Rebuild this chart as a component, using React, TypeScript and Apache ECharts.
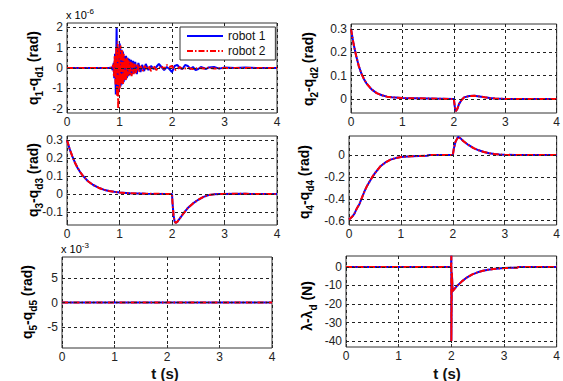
import React, { useEffect, useRef } from 'react';
import * as echarts from 'echarts';

const FONT = '"Liberation Sans", Arial, Helvetica, sans-serif';

// ---------- tick labels ----------
const X_TICKS = [0, 1, 2, 3, 4];
const P1_Y_TICKS = [-2, -1, 0, 1, 2];
const P2_Y_TICKS = [0, 0.1, 0.2, 0.3];
const P3_Y_TICKS = [-0.1, 0, 0.1, 0.2, 0.3];
const P4_Y_TICKS = [-0.6, -0.4, -0.2, 0];
const P5_Y_TICKS = [-5, 0, 5];
const P6_Y_TICKS = [-40, -30, -20, -10, 0];

// ---------- series values: [t (s), value] ----------
// Panel 1 (x 1e-6 rad)
const P1_ROBOT1: [number, number][] = [
  [0, 0], [0.5, 0], [0.8, 0], [0.85, 0.03], [0.87, -0.1], [0.89, 0.25], [0.9, -0.5],
  [0.915, 0.7], [0.93, -1.3], [0.945, 2.0], [0.96, -1.2], [0.975, 1.0], [0.99, -1.1],
  [1.005, 1.2], [1.02, -0.9], [1.035, 0.9], [1.05, -0.8], [1.065, 0.8], [1.08, -0.7],
  [1.095, 0.6], [1.11, -0.6], [1.125, 0.6], [1.14, -0.5], [1.155, 0.5], [1.17, -0.4],
  [1.185, 0.45], [1.2, -0.35], [1.22, 0.4], [1.24, -0.3], [1.26, 0.35], [1.28, -0.25], [1.3, 0.3],
  [1.33, -0.3], [1.36, 0.25], [1.4, -0.2], [1.43, 0.15], [1.47, -0.15], [1.5, 0.2],
  [1.55, -0.1], [1.6, 0.1], [1.65, -0.05], [1.7, 0.05], [1.75, 0.2], [1.8, 0.05], [1.85, -0.1],
  [1.9, 0.05], [1.95, -0.05], [2.0, -0.2], [2.05, 0.1], [2.1, 0.15], [2.15, 0.0], [2.2, -0.05],
  [2.25, 0.15], [2.3, 0.1], [2.35, -0.05], [2.4, 0.05], [2.45, -0.1], [2.5, -0.05], [2.55, 0.05],
  [2.6, 0.0], [2.65, -0.05], [2.7, 0.03], [2.8, 0.05], [2.9, -0.03], [3.0, 0.02], [3.2, 0],
  [3.4, 0.02], [3.6, 0], [4.0, 0],
];
const P1_ROBOT2: [number, number][] = [
  [0, 0], [0.5, 0], [0.86, 0], [0.88, 0.15], [0.895, -0.4], [0.91, 0.6], [0.925, -0.8],
  [0.94, 1.0], [0.955, -1.4], [0.965, 1.3], [0.975, -2.0], [0.99, 1.0], [1.005, -1.0],
  [1.02, 1.1], [1.035, -0.8], [1.05, 0.9], [1.065, -0.8], [1.08, 0.7], [1.095, -0.6],
  [1.11, 0.5], [1.125, -0.6], [1.14, 0.5], [1.155, -0.4], [1.17, 0.4], [1.19, -0.35],
  [1.21, 0.3], [1.23, -0.4], [1.25, 0.25], [1.27, -0.3], [1.29, 0.2], [1.31, -0.25],
  [1.34, 0.2], [1.37, -0.2], [1.4, 0.1], [1.44, -0.15], [1.48, 0.1], [1.52, -0.1], [1.56, 0.1],
  [1.6, -0.15], [1.65, 0.1], [1.7, -0.1], [1.75, 0.0], [1.8, 0.1], [1.85, -0.05], [1.9, 0.15],
  [1.95, 0.05], [2.0, 0.1], [2.05, -0.1], [2.1, -0.05], [2.15, 0.05], [2.2, -0.05], [2.3, 0.0],
  [2.4, -0.05], [2.5, 0.0], [2.6, -0.03], [2.7, 0.02], [2.8, -0.03], [3.0, 0], [4.0, 0],
];
// Panel 2 (rad)
const P2_VALUES: [number, number][] = [
  [0, 0.3], [0.05, 0.235], [0.1, 0.185], [0.15, 0.142], [0.2, 0.11], [0.25, 0.086], [0.3, 0.067],
  [0.4, 0.041], [0.5, 0.025], [0.6, 0.016], [0.7, 0.01], [0.8, 0.007], [1.0, 0.004], [1.5, 0.002],
  [2.0, 0], [2.02, -0.035], [2.04, -0.052], [2.07, -0.042], [2.1, -0.022], [2.15, -0.004],
  [2.2, 0.007], [2.3, 0.013], [2.4, 0.014], [2.5, 0.011], [2.6, 0.007], [2.7, 0.004], [2.8, 0.002],
  [3.0, 0], [4.0, 0],
];
// Panel 3 (rad)
const P3_VALUES: [number, number][] = [
  [0, 0.3], [0.05, 0.25], [0.1, 0.21], [0.15, 0.175], [0.2, 0.146], [0.25, 0.122], [0.3, 0.102],
  [0.4, 0.071], [0.5, 0.05], [0.6, 0.035], [0.7, 0.024], [0.8, 0.017], [0.9, 0.012], [1.0, 0.008],
  [1.2, 0.004], [1.5, 0.002], [2.0, 0], [2.01, -0.05], [2.03, -0.12], [2.05, -0.152], [2.07, -0.16],
  [2.1, -0.155], [2.15, -0.135], [2.2, -0.115], [2.3, -0.078], [2.4, -0.052], [2.5, -0.032],
  [2.6, -0.016], [2.7, -0.006], [2.8, -0.002], [2.9, 0], [3.4, 0.002], [3.5, 0], [4.0, 0],
];
// Panel 4 (rad)
const P4_VALUES: [number, number][] = [
  [0, -0.59], [0.05, -0.57], [0.1, -0.54], [0.15, -0.49], [0.2, -0.45], [0.25, -0.39], [0.3, -0.33],
  [0.35, -0.28], [0.4, -0.24], [0.45, -0.2], [0.5, -0.165], [0.6, -0.105], [0.7, -0.068],
  [0.8, -0.042], [0.9, -0.028], [1.0, -0.019], [1.2, -0.011], [1.5, -0.006], [1.55, 0], [2.0, 0],
  [2.02, 0.06], [2.05, 0.12], [2.1, 0.165], [2.15, 0.152], [2.2, 0.128], [2.3, 0.092], [2.4, 0.063],
  [2.5, 0.043], [2.6, 0.028], [2.7, 0.017], [2.8, 0.01], [2.9, 0.005], [3.0, 0.002], [3.2, 0],
  [4.0, 0],
];
// Panel 5 (x 1e-3 rad)
const P5_VALUES: [number, number][] = [[0, 0], [1, 0], [2, 0], [3, 0], [4, 0]];
// Panel 6 (N)
const P6_VALUES: [number, number][] = [
  [0, 0], [1.0, 0], [1.995, 0], [2.0, 6], [2.0, -40], [2.01, -3], [2.025, -13], [2.1, -10.5],
  [2.2, -7.8], [2.3, -5.6], [2.4, -4.0], [2.5, -2.9], [2.6, -2.1], [2.7, -1.5], [2.8, -1.1],
  [2.9, -0.8], [3.0, -0.6], [3.1, -0.5], [3.25, -0.4], [3.28, 0], [4.0, 0],
];

const GRIDS = [
  { left: 67, top: 23, width: 210, height: 90 },
  { left: 351, top: 24, width: 210, height: 89 },
  { left: 67, top: 136, width: 210, height: 89 },
  { left: 349, top: 136, width: 212, height: 89 },
  { left: 62, top: 257, width: 210, height: 91 },
  { left: 346, top: 256, width: 211, height: 91 },
];
const Y_RANGES: [number, number][] = [
  [-2.2, 2.2], [-0.06, 0.321], [-0.172, 0.322], [-0.64, 0.174], [-9.2, 9.2], [-43.2, 5.9],
];

const RICH = {
  m: { fontSize: 14, fontWeight: 'bold', fontFamily: FONT, lineHeight: 22, color: '#111' },
  s: { fontSize: 10, fontWeight: 'bold', fontFamily: FONT, verticalAlign: 'bottom', color: '#111' },
};
const SUP_RICH = {
  a: { fontSize: 11, fontFamily: FONT, lineHeight: 16, color: '#222' },
  e: { fontSize: 8, fontFamily: FONT, verticalAlign: 'top', color: '#222' },
};

export default function App() {
  const ref = useRef<HTMLDivElement>(null);
  useEffect(() => {
    if (!ref.current) return;
    const chart = echarts.init(ref.current, null, { renderer: 'svg' });
    const yTicks = [P1_Y_TICKS, P2_Y_TICKS, P3_Y_TICKS, P4_Y_TICKS, P5_Y_TICKS, P6_Y_TICKS];
    const r1 = [P1_ROBOT1, P2_VALUES, P3_VALUES, P4_VALUES, P5_VALUES, P6_VALUES];
    const r2 = [P1_ROBOT2, P2_VALUES, P3_VALUES, P4_VALUES, P5_VALUES, P6_VALUES];

    const series: any[] = [];
    GRIDS.forEach((_, i) => {
      series.push({
        type: 'line', name: 'grid', xAxisIndex: i, yAxisIndex: i, data: [[0, 0]],
        symbol: 'none', lineStyle: { opacity: 0 }, silent: true, z: 1,
        markLine: {
          silent: true, symbol: ['none', 'none'], label: { show: false },
          lineStyle: { color: '#222', type: [3, 3], width: 1 },
          emphasis: { disabled: true },
          data: yTicks[i].map((v) => ({ yAxis: v })),
        },
      });
      series.push({
        type: 'line', name: 'robot 1', xAxisIndex: i, yAxisIndex: i, data: r1[i],
        symbol: 'none', showSymbol: false, silent: true, z: 3,
        lineStyle: { color: '#0000ff', width: 2 }, itemStyle: { color: '#0000ff' },
      });
      series.push({
        type: 'line', name: 'robot 2', xAxisIndex: i, yAxisIndex: i, data: r2[i],
        symbol: 'none', showSymbol: false, silent: true, z: 4,
        lineStyle: { color: '#ff0000', width: 2, type: [6, 2, 1.5, 2] }, itemStyle: { color: '#ff0000' },
      });
    });

    const yLabels = [
      { x: 33, y: 68, text: '{m|q}{s|1}{m|-q}{s|d1}{m| (rad)}' },
      { x: 308, y: 69, text: '{m|q}{s|2}{m|-q}{s|d2}{m| (rad)}' },
      { x: 33, y: 180, text: '{m|q}{s|3}{m|-q}{s|d3}{m| (rad)}' },
      { x: 304, y: 182, text: '{m|q}{s|4}{m|-q}{s|d4}{m| (rad)}' },
      { x: 27, y: 302, text: '{m|q}{s|5}{m|-q}{s|d5}{m| (rad)}' },
      { x: 307, y: 306, text: '{m|λ-λ}{s|d}{m| (N)}' },
    ];

    const graphic: any[] = yLabels.map((l) => ({
      type: 'text', x: l.x, y: l.y, rotation: Math.PI / 2,
      style: { text: l.text, rich: RICH, align: 'center', verticalAlign: 'middle' },
    }));
    graphic.push(
      { type: 'text', x: 66, y: 15, style: { text: '{a|x 10}{e|-6}', rich: SUP_RICH, align: 'left', verticalAlign: 'middle' } },
      { type: 'text', x: 61, y: 249, style: { text: '{a|x 10}{e|-3}', rich: SUP_RICH, align: 'left', verticalAlign: 'middle' } },
      { type: 'text', x: 165, y: 373, style: { text: 't (s)', font: `bold 15px ${FONT}`, fill: '#111', align: 'center', verticalAlign: 'middle' } },
      { type: 'text', x: 447, y: 373, style: { text: 't (s)', font: `bold 15px ${FONT}`, fill: '#111', align: 'center', verticalAlign: 'middle' } },
    );

    chart.setOption({
      animation: false,
      backgroundColor: '#ffffff',
      grid: GRIDS.map((g) => ({ ...g, show: true, borderColor: '#333', borderWidth: 1, backgroundColor: '#fff', containLabel: false })),
      xAxis: GRIDS.map((_, i) => ({
        gridIndex: i, type: 'value', min: 0, max: 4, interval: 1,
        axisLine: { show: false, onZero: false },
        axisTick: { show: true, inside: true, length: 3, lineStyle: { color: '#333' } },
        axisLabel: { fontSize: 12, color: '#222', margin: 3, fontFamily: FONT, customValues: X_TICKS },
        splitLine: { show: true, lineStyle: { color: '#222', type: [3, 3], width: 1 } },
      })),
      yAxis: GRIDS.map((_, i) => ({
        gridIndex: i, type: 'value', min: Y_RANGES[i][0], max: Y_RANGES[i][1],
        axisLine: { show: false, onZero: false },
        axisTick: { show: true, inside: true, length: 3, lineStyle: { color: '#333' }, customValues: yTicks[i] },
        axisLabel: { fontSize: 12, color: '#222', margin: 4, fontFamily: FONT, customValues: yTicks[i] },
        splitLine: { show: false },
      })),
      legend: {
        data: ['robot 1', 'robot 2'], left: 180, top: 27, orient: 'vertical', z: 10,
        backgroundColor: '#fff', borderColor: '#333', borderWidth: 1, borderRadius: 0,
        padding: [3, 10, 3, 6], itemWidth: 36, itemHeight: 8, itemGap: 3, selectedMode: false,
        itemStyle: { opacity: 0 },
        textStyle: { fontSize: 12, color: '#111', fontFamily: FONT },
      },
      graphic,
      series,
    });
    return () => chart.dispose();
  }, []);
  return (
    <div
      ref={ref}
      style={{ position: 'fixed', left: 0, top: 0, width: 563, height: 381, background: '#fff' }}
    />
  );
}
